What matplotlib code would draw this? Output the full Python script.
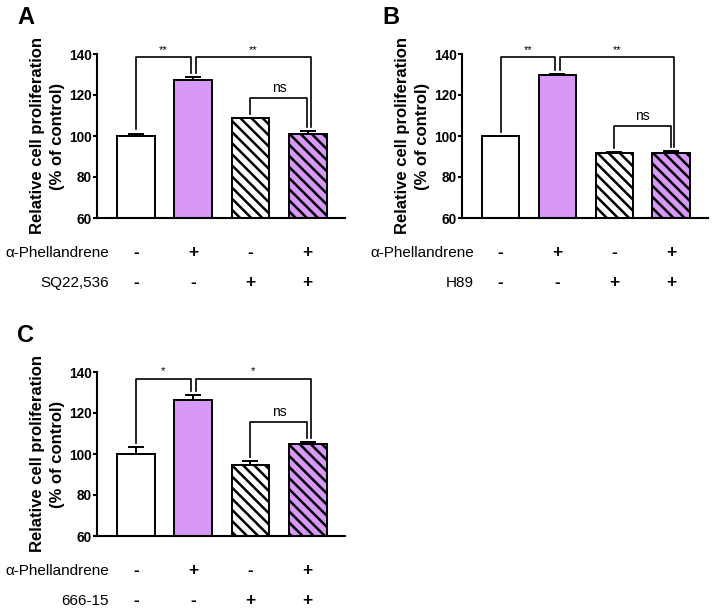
import matplotlib
matplotlib.use("Agg")
import matplotlib.pyplot as plt

plt.rcParams['font.family'] = ['Liberation Sans', 'DejaVu Sans']
plt.rcParams['hatch.linewidth'] = 1.8

# ---- data ----
groups = ["ctrl", "aP", "inh", "aP+inh"]
phell_signs = ["-", "+", "-", "+"]
inhib_signs = ["-", "-", "+", "+"]

inhibitors = ["SQ22,536", "H89", "666-15"]
panel_letters = ["A", "B", "C"]

means_A = [100.2, 127.5, 108.6, 101.2]
errs_A = [1.0, 1.3, 0.3, 1.0]
means_B = [100.1, 129.8, 91.5, 91.9]
errs_B = [0.0, 0.6, 0.8, 0.8]
means_C = [100.2, 126.5, 94.6, 104.8]
errs_C = [3.1, 2.2, 2.0, 1.1]

sig_main_A = ["**", "**"]
sig_main_B = ["**", "**"]
sig_main_C = ["*", "*"]
sig_ns = "ns"
bracket_top_main = [138.6, 138.6, 136.8]
bracket_top_ns = [118.4, 104.9, 115.6]

yticks = [60, 80, 100, 120, 140]

purple = "#D898F7"
colors = ["white", purple, "white", purple]
hatches = [None, None, "\\\\\\", "\\\\\\"]

fig = plt.figure(figsize=(7.13, 6.09), dpi=100)
W, H = 713, 609

def axes_rect(x0, x1, ytop, ybot):
    return [x0 / W, 1 - ybot / H, (x1 - x0) / W, (ybot - ytop) / H]

rects = [axes_rect(97, 345, 54, 218),
         axes_rect(462, 708, 54, 218),
         axes_rect(97, 345, 372, 536)]

panels = [(means_A, errs_A, sig_main_A),
          (means_B, errs_B, sig_main_B),
          (means_C, errs_C, sig_main_C)]

lw = 1.4
for k, (rect, (means, errs, sig)) in enumerate(zip(rects, panels)):
    ax = fig.add_axes(rect)
    x = list(range(len(groups)))
    for i in x:
        ax.bar(i, means[i], width=0.66, color=colors[i], edgecolor="black",
               linewidth=lw, hatch=hatches[i], zorder=2)
    ax.errorbar(x, means, yerr=[[0] * 4, errs], fmt="none", ecolor="black",
                elinewidth=lw, capsize=5.5, capthick=lw, zorder=3)
    ax.set_xlim(-0.68, 3.65)
    ax.set_ylim(60, 140)
    ax.set_yticks(yticks)
    ax.set_yticklabels([str(t) for t in yticks], fontsize=9.8, fontweight="bold")
    ax.set_xticks([])
    for s in ["top", "right"]:
        ax.spines[s].set_visible(False)
    for s in ["left", "bottom"]:
        ax.spines[s].set_linewidth(1.5)
    ax.tick_params(axis="y", width=1.5, length=3, pad=1)
    ax.set_ylabel("Relative cell proliferation\n(% of control)", fontsize=12,
                  fontweight="bold", labelpad=3, linespacing=1.4)

    tops = [m + e for m, e in zip(means, errs)]
    gap = 2.0
    yb = bracket_top_main[k]
    # bracket 1 -> 2
    xa, xb = 0.0, 1 - 0.045
    ax.plot([xa, xa, xb, xb], [tops[0] + gap, yb, yb, tops[1] + gap],
            color="black", lw=1.2, clip_on=False, zorder=4)
    ax.text((xa + xb) / 2, yb + 1.0, sig[0], ha="center", va="bottom",
            fontsize=8, clip_on=False)
    # bracket 2 -> 4
    xa, xb = 1 + 0.045, 3 + 0.055
    ax.plot([xa, xa, xb, xb], [tops[1] + gap, yb, yb, tops[3] + gap],
            color="black", lw=1.2, clip_on=False, zorder=4)
    ax.text((xa + xb) / 2, yb + 1.0, sig[1], ha="center", va="bottom",
            fontsize=8, clip_on=False)
    # ns bracket 3 -> 4
    yn = bracket_top_ns[k]
    xa, xb = 2.0, 3 - 0.005
    ax.plot([xa, xa, xb, xb], [tops[2] + gap, yn, yn, tops[3] + gap],
            color="black", lw=1.2, clip_on=False, zorder=4)
    ax.text((xa + xb) / 2, yn + 1.5, sig_ns, ha="center", va="bottom",
            fontsize=10, clip_on=False)

    # row labels under axis
    rows = [("α-Phellandrene", phell_signs, -35), (inhibitors[k], inhib_signs, -65)]
    for label, signs, dy in rows:
        ax.annotate(label, xy=(-0.47, 0), xycoords=("data", "axes fraction"),
                    xytext=(0, dy * 0.72), textcoords="offset points",
                    ha="right", va="center", fontsize=11, annotation_clip=False)
        for i, s in enumerate(signs):
            ax.annotate(s, xy=(i, 0), xycoords=("data", "axes fraction"),
                        xytext=(0, dy * 0.72), textcoords="offset points",
                        ha="center", va="center", fontsize=12.5,
                        fontweight="bold", annotation_clip=False)

# panel letters
fig.text(17 / W, 1 - 18 / H, "A", fontsize=17, fontweight="bold", va="center")
fig.text(382 / W, 1 - 18 / H, "B", fontsize=17, fontweight="bold", va="center")
fig.text(17 / W, 1 - 336 / H, "C", fontsize=17, fontweight="bold", va="center")

fig.savefig("out.png", dpi=100)
